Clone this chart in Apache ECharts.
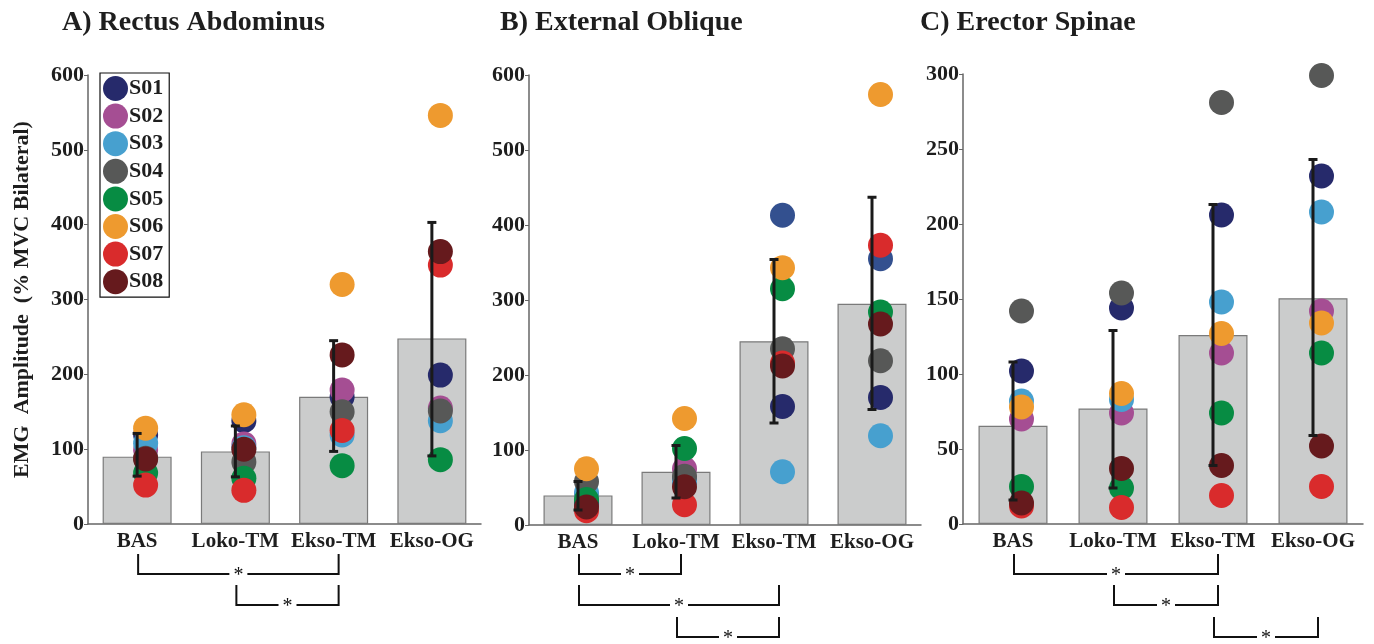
<!DOCTYPE html>
<html>
<head>
<meta charset="utf-8">
<script src="https://cdn.jsdelivr.net/npm/echarts@6/dist/echarts.min.js"></script>
<style>
html,body{margin:0;padding:0;background:#fff;}
#chart{width:1374px;height:644px;}
</style>
</head>
<body>
<div id="chart"></div>
<script>
// ---------------- DATA ----------------
const categories = ['BAS', 'Loko-TM', 'Ekso-TM', 'Ekso-OG'];
const subjects = ['S01', 'S02', 'S03', 'S04', 'S05', 'S06', 'S07', 'S08'];
const panelTitles = ['A) Rectus Abdominus', 'B) External Oblique', 'C) Erector Spinae'];
const yMax = [600, 600, 300];
const yInterval = [100, 100, 50];

// group means (bars)
const raMean = [90, 97, 170, 248];
const eoMean = [39.5, 71, 245, 295];
const esMean = [65.5, 77, 126, 150.5];

// error bar low / high ends
const raErrLow = [64, 63, 97, 91];
const raErrHigh = [121, 131, 245, 403];
const eoErrLow = [20, 36, 136, 154];
const eoErrHigh = [58, 106, 354, 437];
const esErrLow = [16, 24, 39, 59];
const esErrHigh = [108, 129, 213, 243];

// individual subject values, one row per subject (S01..S08), columns = categories
const raPoints = [
  [119, 138, 170, 199],
  [99, 107, 179, 155],
  [108, 102, 119, 138],
  [88, 83, 150, 151],
  [68, 61, 78, 86],
  [128, 146, 320, 546],
  [52, 45, 125, 346],
  [87, 100, 226, 364]
];
const eoPoints = [
  [30, 60, 158, 170],
  [40, 75, 413, 355],
  [43, 58, 71, 119],
  [58, 65, 235, 219],
  [34, 102, 315, 284],
  [75, 142, 343, 574],
  [19, 27, 216, 373],
  [24, 51, 212, 268]
];
const esPoints = [
  [102, 144, 206, 232],
  [70, 74, 114, 142],
  [82, 83, 148, 208],
  [142, 154, 281, 299],
  [25, 24, 74, 114],
  [78, 87, 127, 134],
  [12, 11, 19, 25],
  [14, 37, 39, 52]
];

// significance brackets: panel, from category, to category, row
const brackets = [
  [0, 0, 2, 0], [0, 1, 2, 1],
  [1, 0, 1, 0], [1, 0, 2, 1], [1, 1, 2, 2],
  [2, 0, 2, 0], [2, 1, 2, 1], [2, 2, 3, 2]
];

// ---------------- STYLE ----------------
const subjectColors = ['#262a6b', '#a54e93', '#47a0cf', '#575857', '#078c43', '#ee9a2f', '#d92b2c', '#661a1d'];
// a few dots in panel B are drawn in a different blue in the original
const colorOverrides = [[1, 1, 2, '#33508f'], [1, 1, 3, '#33508f']];
const serif = '"Liberation Serif", "Times New Roman", serif';
const grids = [
  {left: 88, top: 75, width: 393, height: 449},
  {left: 529, top: 75, width: 392, height: 450},
  {left: 963, top: 74, width: 400, height: 450}
];
const titleLeft = [57, 495, 915];

const means = [raMean, eoMean, esMean];
const errLow = [raErrLow, eoErrLow, esErrLow];
const errHigh = [raErrHigh, eoErrHigh, esErrHigh];
const points = [raPoints, eoPoints, esPoints];

const chart = echarts.init(document.getElementById('chart'), null, {renderer: 'canvas'});

const series = [];
for (let p = 0; p < 3; p++) {
  series.push({
    type: 'bar', xAxisIndex: p, yAxisIndex: p,
    data: means[p], barWidth: 69, z: 1,
    itemStyle: {color: '#cbcccc', borderColor: '#7a7a7a', borderWidth: 1.2},
    silent: true
  });
  subjects.forEach((s, si) => {
    series.push({
      type: 'scatter', name: s, xAxisIndex: p, yAxisIndex: p,
      symbol: 'circle', symbolSize: 25, symbolOffset: [8.5, 0], z: 3,
      itemStyle: {color: subjectColors[si], opacity: 1},
      data: points[p][si].map((v, ci) => {
        const ov = colorOverrides.find(o => o[0] === p && o[1] === si && o[2] === ci);
        return ov ? {value: [ci, v], itemStyle: {color: ov[3]}} : [ci, v];
      })
    });
  });
  series.push({
    type: 'custom', xAxisIndex: p, yAxisIndex: p, z: 5, silent: true,
    encode: {x: 0, y: [1, 2]},
    data: categories.map((c, ci) => [ci, errLow[p][ci], errHigh[p][ci]]),
    renderItem: function (params, api) {
      const lo = api.coord([api.value(0), api.value(1)]);
      const hi = api.coord([api.value(0), api.value(2)]);
      const st = {stroke: '#1a1a1a', lineWidth: 3};
      const cw = 4.5;
      return {type: 'group', children: [
        {type: 'line', shape: {x1: lo[0], y1: lo[1], x2: hi[0], y2: hi[1]}, style: st},
        {type: 'line', shape: {x1: lo[0] - cw, y1: lo[1], x2: lo[0] + cw, y2: lo[1]}, style: st},
        {type: 'line', shape: {x1: hi[0] - cw, y1: hi[1], x2: hi[0] + cw, y2: hi[1]}, style: st}
      ]};
    }
  });
}

const option = {
  backgroundColor: '#ffffff',
  animation: false,
  title: panelTitles.map((t, i) => ({
    text: t, left: titleLeft[i], top: 4,
    textStyle: {fontFamily: serif, fontWeight: 'bold', fontSize: 28, color: '#1e1e1e'}
  })),
  legend: {
    data: subjects, orient: 'vertical', left: 100, top: 73,
    icon: 'circle', itemWidth: 25, itemHeight: 25, itemGap: 2.6,
    padding: [3, 6, 3, 3], borderColor: '#111', borderWidth: 1.2,
    backgroundColor: '#fff',
    textStyle: {fontFamily: serif, fontWeight: 'bold', fontSize: 22, color: '#1e1e1e', padding: [0, 0, 0, -4]}
  },
  grid: grids,
  xAxis: grids.map((g, i) => ({
    type: 'category', gridIndex: i, data: categories, boundaryGap: true,
    axisLine: {lineStyle: {color: '#666', width: 1.5}},
    axisTick: {show: false},
    axisLabel: {fontFamily: serif, fontWeight: 'bold', fontSize: 21, color: '#1e1e1e', margin: 7, interval: 0}
  })),
  yAxis: grids.map((g, i) => ({
    type: 'value', gridIndex: i, min: 0, max: yMax[i], interval: yInterval[i],
    splitLine: {show: false},
    axisLine: {show: true, lineStyle: {color: '#666', width: 1.5}},
    axisTick: {show: true, length: 4, lineStyle: {color: '#666'}},
    axisLabel: {fontFamily: serif, fontWeight: 'bold', fontSize: 22, color: '#1e1e1e', margin: 4},
    name: i === 0 ? 'EMG  Amplitude  (% MVC Bilateral)' : '',
    nameLocation: 'middle', nameGap: 55,
    nameTextStyle: {fontFamily: serif, fontWeight: 'bold', fontSize: 22, color: '#1e1e1e'}
  })),
  series: series
};
chart.setOption(option);

// significance brackets positioned from the category axes
const rowBottom = [574, 605, 637];
const graphics = [];
brackets.forEach(b => {
  const [p, c1, c2, row] = b;
  const x1 = chart.convertToPixel({gridIndex: p}, [c1, 0])[0] + 1;
  const x2 = chart.convertToPixel({gridIndex: p}, [c2, 0])[0] + 5;
  const xm = (x1 + x2) / 2;
  const yb = rowBottom[row], yt = yb - 20;
  const st = {stroke: '#111', lineWidth: 2, fill: null};
  graphics.push({type: 'polyline', shape: {points: [[x1, yt], [x1, yb], [xm - 9, yb]]}, style: st});
  graphics.push({type: 'polyline', shape: {points: [[xm + 9, yb], [x2, yb], [x2, yt]]}, style: st});
  graphics.push({type: 'text', x: xm, y: yb + 2, style: {text: '*', fontFamily: serif, fontSize: 20, fill: '#111', align: 'center', verticalAlign: 'middle'}});
});
chart.setOption({graphic: graphics});
</script>
</body>
</html>
